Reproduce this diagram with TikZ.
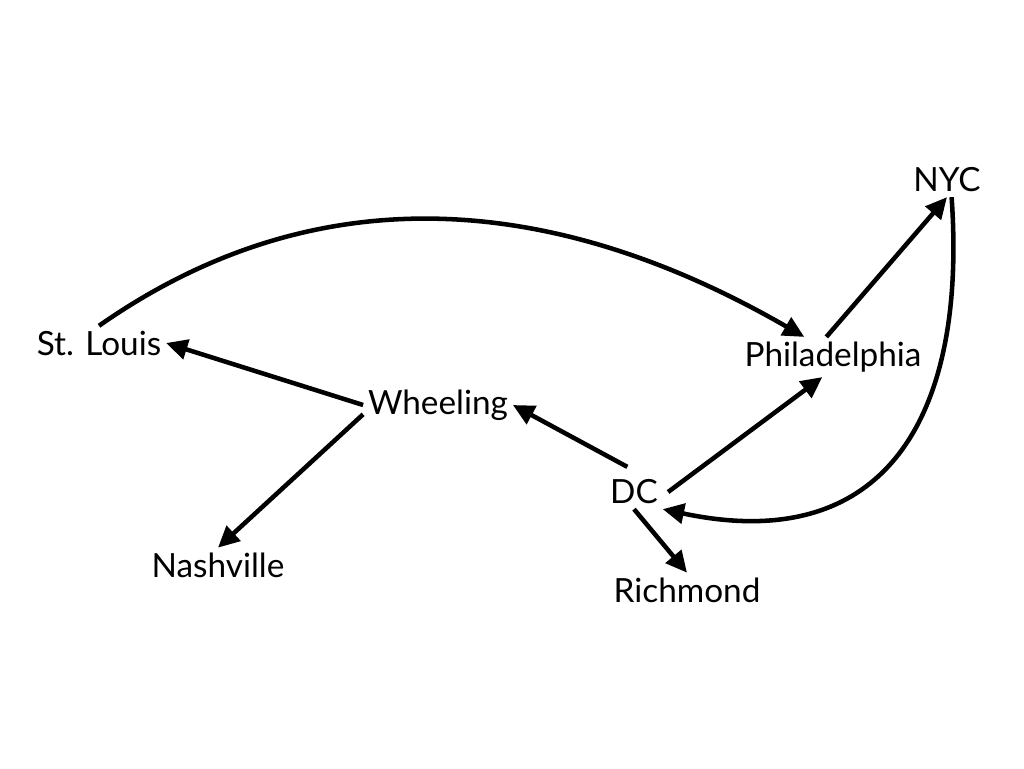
\documentclass[tikz,border=0pt]{standalone}
\usepackage{fontspec}
\setmainfont{Lato}
\usetikzlibrary{arrows.meta}

\begin{document}
\begin{tikzpicture}[x=0.75pt, y=-0.75pt,
    city/.style={font=\fontsize{25}{29}\selectfont, inner sep=3.5pt},
    road/.style={line width=3.4pt, -{Triangle[length=16pt, width=15pt]}}]
  \useasboundingbox (0,0) rectangle (1024,768);
  % cities
  \node[city] (nyc)       at (947,180) {NYC};
  \node[city] (phila)     at (833,357) {Philadelphia};
  \node[city] (stlouis)   at (99,343)  {St. Louis};
  \node[city] (wheeling)  at (438,405) {Wheeling};
  \node[city] (dc)        at (634,492) {DC};
  \node[city] (nashville) at (218,565) {Nashville};
  \node[city] (richmond)  at (687,590) {Richmond};
  % roads
  \draw[road] (stlouis.north) to[out=35, in=150] (phila.145);
  \draw[road] ([xshift=-5pt]phila.north) -- (nyc.south);
  \draw[road] (nyc.-75) to[out=-86, in=-12, looseness=1.35] (dc.south east);
  \draw[road] (wheeling.west) -- (stlouis.east);
  \draw[road] ([yshift=-7pt]wheeling.west) -- (nashville.north);
  \draw[road] ([xshift=-5pt, yshift=6pt]dc.north) -- (wheeling.east);
  \draw[road] ([xshift=4pt]dc.east) -- ([xshift=-8pt]phila.south);
  \draw[road] (dc.south) -- (richmond.north);
\end{tikzpicture}
\end{document}
